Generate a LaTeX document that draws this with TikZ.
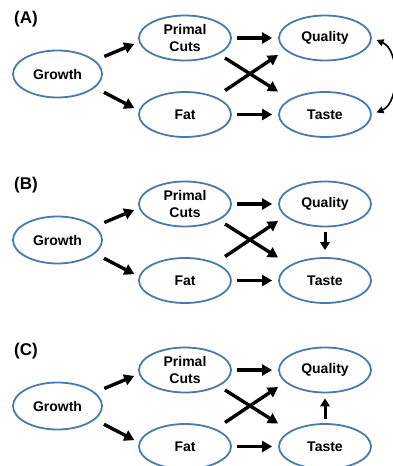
\documentclass[tikz,border=0pt]{standalone}
\usepackage{fontspec}
\setmainfont{Liberation Sans}
\usetikzlibrary{shapes.geometric,arrows.meta,calc}
\definecolor{ringblue}{RGB}{74,122,172}
\tikzset{
  oval/.style={ellipse, draw=ringblue, line width=1.8pt, inner sep=0pt,
    minimum width=92pt, minimum height=45pt, align=center,
    font=\fontsize{14}{16.7}\selectfont\bfseries},
  bigoval/.style={oval, minimum width=89pt, minimum height=47pt},
  link/.style={line width=3.4pt, -{Triangle[length=10pt,width=11pt]}},
  vlink/.style={line width=3pt, -{Triangle[length=8pt,width=9.5pt]}},
  loop/.style={line width=1.6pt, {Triangle[length=7pt,width=7pt]}-{Triangle[length=7pt,width=7pt]}},
  tag/.style={font=\fontsize{17}{17}\selectfont\bfseries, inner sep=0pt}
}
\begin{document}
\begin{tikzpicture}[x=1pt,y=-1pt]
\useasboundingbox (0,0) rectangle (393,466);
\foreach \p/\oy in {A/0,B/166,C/332}{
  \node[tag] (lab\p) at (26,19+\oy) {(\p)};
  \node[bigoval] (g\p) at (57.5,74+\oy) {Growth};
  \node[oval] (p\p) at (185,38+\oy) {Primal\\Cuts};
  \node[oval] (f\p) at (185,114.5+\oy) {Fat};
  \node[oval] (q\p) at (325,38+\oy) {Quality};
  \node[oval] (t\p) at (325,114.5+\oy) {Taste};
  % growth feeds both carcass traits
  \draw[link, shorten <=10pt, shorten >=5pt] (g\p.20) -- (p\p.185);
  \draw[link, shorten <=10pt, shorten >=5pt] (g\p.-20) -- (f\p.175);
  % straight paths
  \draw[link, shorten <=5pt, shorten >=6pt] (p\p.east) -- (q\p.west);
  \draw[link, shorten <=5pt, shorten >=6pt] (f\p.east) -- (t\p.west);
  % crossing paths
  \draw[link] ($(p\p)+(40,20)$) -- ($(t\p)+(-47,-23)$);
  \draw[link] ($(f\p)+(40,-24)$) -- ($(q\p)+(-47,17)$);
}
% (A) quality and taste linked both ways
\draw[loop, shorten <=5pt, shorten >=5pt] (qA.east) .. controls +(28,12) and +(28,-12) .. (tA.east);
% (B) quality drives taste
\draw[vlink, shorten <=5pt, shorten >=7pt] (qB.south) -- (tB.north);
% (C) taste drives quality
\draw[vlink, shorten <=4pt, shorten >=5pt] (tC.north) -- (qC.south);
\end{tikzpicture}
\end{document}
